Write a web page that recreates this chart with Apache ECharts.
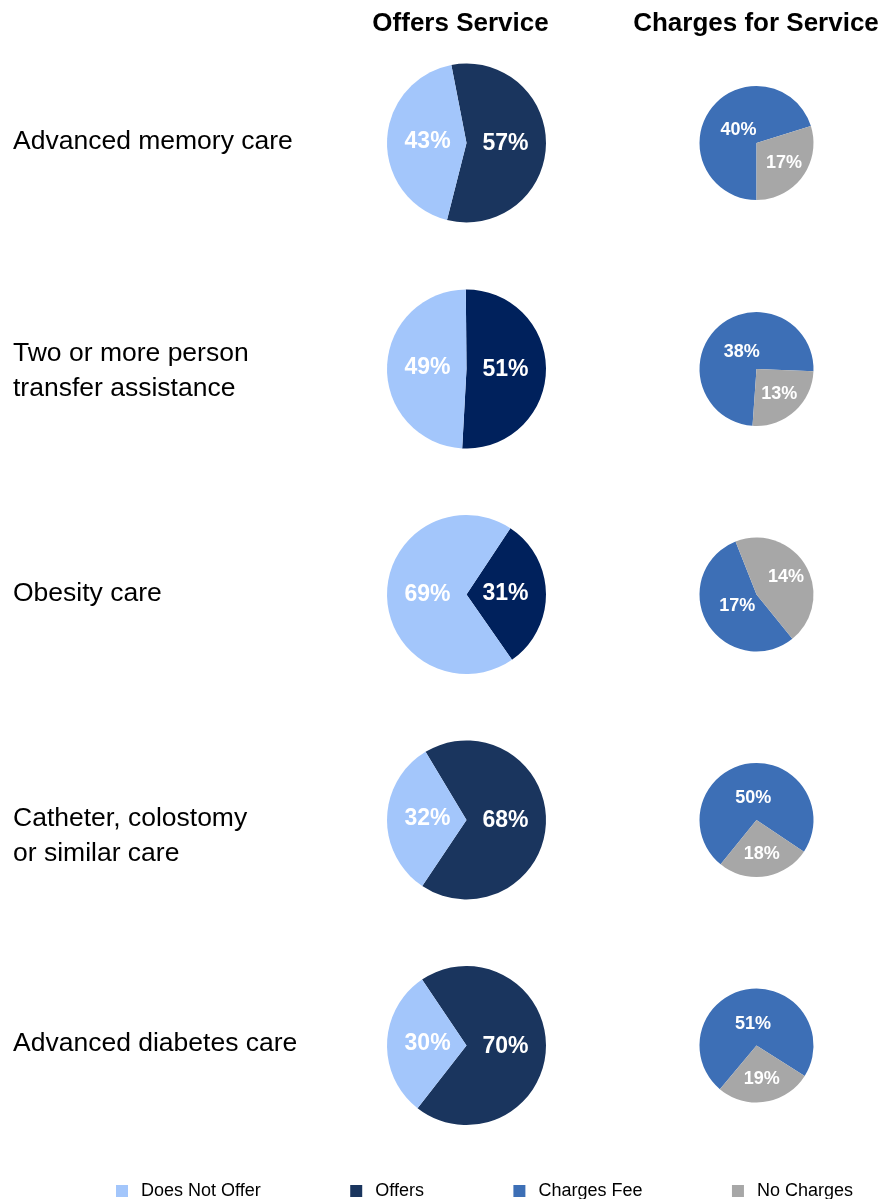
<!DOCTYPE html>
<html>
<head>
<meta charset="utf-8">
<script src="https://cdn.jsdelivr.net/npm/echarts@6/dist/echarts.min.js"></script>
<style>
  html, body { margin: 0; padding: 0; background: #fff; }
  #chart { width: 883px; height: 1199px; }
</style>
</head>
<body>
<div id="chart"></div>
<script>
// Services surveyed, one row each
const services = [
  'Advanced memory care',
  'Two or more person\ntransfer assistance',
  'Obesity care',
  'Catheter, colostomy\nor similar care',
  'Advanced diabetes care'
];
const columnTitles = ['Offers Service', 'Charges for Service'];
const sliceNames = ['Does Not Offer', 'Offers', 'Charges Fee', 'No Charges'];

// Share of communities (%)
const offers       = [57, 51, 31, 68, 70];
const doesNotOffer = [43, 49, 69, 32, 30];
const chargesFee   = [40, 38, 17, 50, 51];
const noCharges    = [17, 13, 14, 18, 19];

// Layout and style settings
const FONT = '"Liberation Sans", Arial, Helvetica, sans-serif';
const rowY = [143, 369, 594.5, 820, 1045.5];
const rowLabelY = [142, 371.5, 594, 836.5, 1044];
const leftX = 466.5, rightX = 756.5;
const leftR = 79.5, rightR = 57;
const leftStart = [101, 90.5, 56.5, 121, 124];
const rightStart = [-90, -94, -51, -129, -130];
const offersColor = ['#1a355e', '#00215c', '#00215c', '#1a355e', '#1a355e'];
const lightBlue = '#a3c6fb';
const feeBlue = '#3d6fb6';
const grey = '#a7a7a7';

// distance of a slice label from the pie centre, as a share of the radius
const labelDist = { left: [0.49, 0.49], right: [0.39, 0.6] };

const series = [];
const seriesGeom = [];
services.forEach((s, i) => {
  seriesGeom.push({ cx: leftX, cy: rowY[i], r: leftR, dist: labelDist.left });
  series.push({
    type: 'pie',
    center: [leftX, rowY[i]],
    radius: [0, leftR],
    startAngle: leftStart[i],
    clockwise: true,
    avoidLabelOverlap: false,
    label: {
      position: 'inside',
      formatter: p => p.value + '%',
      color: '#fff', fontFamily: FONT, fontWeight: 'bold', fontSize: 23
    },
    labelLine: { show: false },
    emphasis: { disabled: true },
    data: [
      { name: sliceNames[1], value: offers[i], itemStyle: { color: offersColor[i] } },
      { name: sliceNames[0], value: doesNotOffer[i], itemStyle: { color: lightBlue } }
    ]
  });
  seriesGeom.push({ cx: rightX, cy: rowY[i], r: rightR, dist: labelDist.right });
  series.push({
    type: 'pie',
    center: [rightX, rowY[i]],
    radius: [0, rightR],
    startAngle: rightStart[i],
    clockwise: true,
    avoidLabelOverlap: false,
    label: {
      position: 'inside',
      formatter: p => p.value + '%',
      color: '#fff', fontFamily: FONT, fontWeight: 'bold', fontSize: 18
    },
    labelLine: { show: false },
    emphasis: { disabled: true },
    data: [
      { name: sliceNames[2], value: chargesFee[i], itemStyle: { color: feeBlue } },
      { name: sliceNames[3], value: noCharges[i], itemStyle: { color: grey } }
    ]
  });
});

// keep each label on its slice's direction but at a fixed share of the radius
function placeLabel(p) {
  const g = seriesGeom[p.seriesIndex];
  const lr = p.labelRect;
  const mx = lr.x + lr.width / 2, my = lr.y + lr.height / 2;
  const dx = mx - g.cx, dy = my - g.cy;
  const len = Math.sqrt(dx * dx + dy * dy) || 1;
  const d = g.dist[p.dataIndex] * g.r;
  return { x: g.cx + dx / len * d, y: g.cy + dy / len * d, align: 'center', verticalAlign: 'middle' };
}
series.forEach(s => { s.labelLayout = placeLabel; });

const graphics = [
  { type: 'text', style: { text: columnTitles[0], x: 460.5, y: 24, align: 'center', verticalAlign: 'middle',
      font: 'bold 26px ' + FONT, fill: '#000' } },
  { type: 'text', style: { text: columnTitles[1], x: 756, y: 24, align: 'center', verticalAlign: 'middle',
      font: 'bold 26px ' + FONT, fill: '#000' } }
];
services.forEach((s, i) => {
  graphics.push({
    type: 'text',
    style: {
      text: s, x: 13, y: rowLabelY[i], verticalAlign: 'middle',
      font: '26.5px ' + FONT, lineHeight: 35, fill: '#000'
    }
  });
});

const chart = echarts.init(document.getElementById('chart'), null, { renderer: 'canvas' });
chart.setOption({
  animation: false,
  backgroundColor: '#fff',
  legend: {
    data: sliceNames,
    left: 111, top: 1177,
    icon: 'rect', itemWidth: 12, itemHeight: 12, itemGap: 89.5,
    selectedMode: false,
    textStyle: { fontFamily: FONT, fontSize: 18, color: '#000', padding: [0, 0, 0, 8] }
  },
  graphic: graphics,
  series: series
});
</script>
</body>
</html>
